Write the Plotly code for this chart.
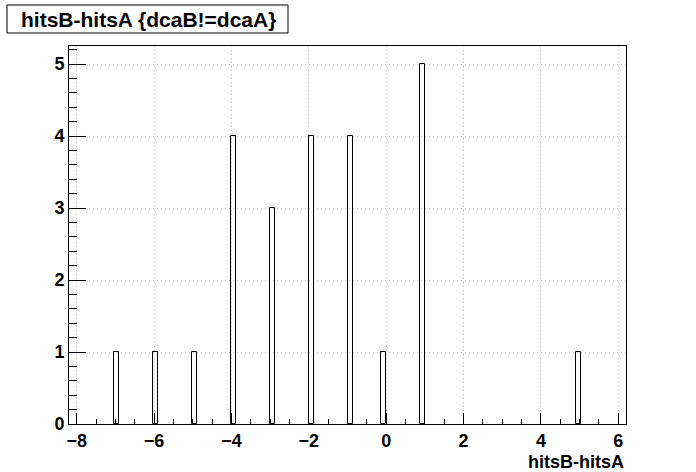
import numpy as np
import plotly.graph_objects as go

# Data
hit_diff = [-7, -6, -5, -4, -3, -2, -1, 0, 1, 5]
counts = [1, 1, 1, 4, 3, 4, 4, 1, 5, 1]
x_ticks = [-8, -6, -4, -2, 0, 2, 4, 6]
y_ticks = [0, 1, 2, 3, 4, 5]
title_text = "hitsB-hitsA {dcaB!=dcaA}"
x_title = "hitsB-hitsA"

# Histogram binning (100 bins)
x_lo, x_hi, nbins = -8.2, 6.2, 100
edges = np.linspace(x_lo, x_hi, nbins + 1)
bw = edges[1] - edges[0]
idx = np.searchsorted(edges, np.array(hit_diff, dtype=float), side="right") - 1
centers = edges[idx] + bw / 2

FONT = "Liberation Sans, Arial, sans-serif"
W, H = 696, 472
L, T = 69, 46
pw, ph = 557, 378
R, B = W - L - pw, H - T - ph

fig = go.Figure()
fig.add_trace(go.Bar(
    x=centers, y=counts, width=bw,
    marker=dict(color="rgba(255,255,255,0)", line=dict(color="black", width=1)),
    showlegend=False, hoverinfo="skip",
))

fig.update_layout(
    width=W, height=H,
    margin=dict(l=L, r=R, t=T, b=B, autoexpand=False),
    paper_bgcolor="white", plot_bgcolor="white",
    font=dict(family=FONT, size=18, color="black", weight="bold"),
    bargap=0,
)
GRID = dict(showgrid=True, gridcolor="#c4c4c4", griddash="1px,3px", gridwidth=1)
fig.update_xaxes(
    range=[x_lo, x_hi], tickvals=x_ticks, ticktext=[str(v).replace("-", "\u2212") for v in x_ticks],
    ticks="inside", ticklen=11, tickwidth=1, tickcolor="black",
    minor=dict(dtick=0.5, tick0=0, ticks="inside", ticklen=5, tickcolor="black", showgrid=False),
    showline=True, linecolor="black", linewidth=1, mirror=True,
    zeroline=False, tickfont=dict(size=18, weight="bold"), **GRID,
)
fig.update_yaxes(
    range=[0, 5.25], tickvals=y_ticks,
    ticks="inside", ticklen=17, tickwidth=1, tickcolor="black",
    minor=dict(dtick=0.2, tick0=0, ticks="inside", ticklen=8, tickcolor="black", showgrid=False),
    showline=True, linecolor="black", linewidth=1, mirror=True,
    zeroline=False, tickfont=dict(size=18, weight="bold"), **GRID,
)

# positions given in reference-picture pixels
def px2x(px):
    return (px - L) / pw

def py2y(py):
    return (T + ph - py) / ph

fig.add_shape(type="rect", xref="paper", yref="paper",
              x0=px2x(7), x1=px2x(288), y0=py2y(33), y1=py2y(5),
              line=dict(color="black", width=1), fillcolor="white", layer="above")
fig.add_annotation(text=title_text, xref="paper", yref="paper",
                   x=px2x(148), y=py2y(19), xanchor="center", yanchor="middle",
                   showarrow=False, font=dict(size=21, weight="bold", family=FONT))
fig.add_annotation(text=x_title, xref="paper", yref="paper",
                   x=1, y=py2y(462), xanchor="right", yanchor="middle",
                   showarrow=False, font=dict(size=18, weight="bold", family=FONT))

fig.write_html("out.html", config={"displayModeBar": False},
               post_script="document.body.style.margin='0';")
